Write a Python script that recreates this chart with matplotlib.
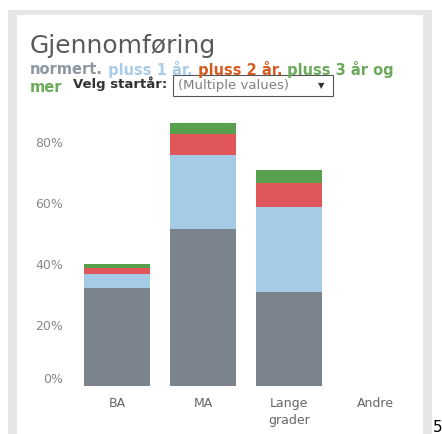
import matplotlib
matplotlib.use("Agg")
import matplotlib.pyplot as plt
from matplotlib.patches import Rectangle

# verdier lest av bildet (prosent)
kategorier = ["BA", "MA", "Lange\ngrader", "Andre"]
normert = [32.2, 51.5, 30.7, 0]
pluss1 = [4.6, 24.3, 27.9, 0]
pluss2 = [1.9, 6.9, 8.0, 0]
pluss3 = [1.4, 3.6, 4.3, 0]
y_ticks = [0, 20, 40, 60, 80]

farger = ["#7b838f", "#a5cbe6", "#e0565b", "#59a04e"]

W, H = 442, 434
fig = plt.figure(figsize=(W / 100, H / 100), dpi=100)


def px(x, y):
    # piksel (fra topp-venstre) -> figurbrøk
    return x / W, 1 - y / H


# ramme rundt
fig.patches.append(Rectangle(px(8, 434), 424 / W, 424 / H, transform=fig.transFigure,
                             facecolor="#e6e6e6", edgecolor="none", zorder=-2))
fig.patches.append(Rectangle(px(17, 434), 406 / W, 419 / H, transform=fig.transFigure,
                             facecolor="white", edgecolor="none", zorder=-1))

ax = fig.add_axes([74 / W, (H - 386) / H, 344 / W, 274.5 / H])
ax.set_facecolor("none")
ax.set_zorder(1)

x = range(len(kategorier))
bunn = [0] * len(kategorier)
for serie, farge in zip([normert, pluss1, pluss2, pluss3], farger):
    ax.bar(x, serie, width=0.76, bottom=bunn, color=farge, edgecolor="none")
    bunn = [b + s for b, s in zip(bunn, serie)]

ax.set_xlim(-0.5, 3.5)
ax.set_ylim(0, 90)
ax.set_xticks(list(x))
ax.set_xticklabels(kategorier, color="#666666", fontsize=9, linespacing=1.4)
ax.set_yticks(y_ticks)
ax.set_yticklabels([f"{v}%" for v in y_ticks], color="#888888", fontsize=9)
ax.get_yticklabels()[0].set_va("bottom")
ax.tick_params(length=0, pad=8)
for s in ax.spines.values():
    s.set_visible(False)

# tittel
fig.text(*px(30, 46), "Gjennomføring", fontsize=18, color="#5a5a5a", va="center")

# undertittel i flere farger
renderer = fig.canvas.get_renderer()
biter = [("normert.", "#8d97a3"), (" pluss 1 år.", "#a9cde8"),
         (" pluss 2 år.", "#d75a1e"), (" pluss 3 år og", "#6aaa5a")]
xpos = 30
for tekst, farge in biter:
    t = fig.text(*px(xpos, 69), tekst, fontsize=10.5, fontweight="bold", color=farge, va="center")
    xpos += t.get_window_extent(renderer).width
fig.text(*px(30, 87), "mer", fontsize=10.5, fontweight="bold", color="#6aaa5a", va="center")

# nedtrekksmeny
fig.text(*px(73, 84), "Velg startår:", fontsize=9.5, fontweight="bold", color="#333333", va="center")
fig.patches.append(Rectangle(px(173, 96), 160 / W, 21 / H, transform=fig.transFigure,
                             facecolor="white", edgecolor="#555555", linewidth=0.8, zorder=3))
fig.text(*px(178, 86), "(Multiple values)", fontsize=9.5, color="#808080", va="center", zorder=4)
fig.text(*px(321, 86), "▼", fontsize=6, color="#333333", va="center", ha="center", zorder=4)

fig.text(*px(433, 428), "5", fontsize=11, color="black", va="center")

fig.savefig("out.png", dpi=100)
